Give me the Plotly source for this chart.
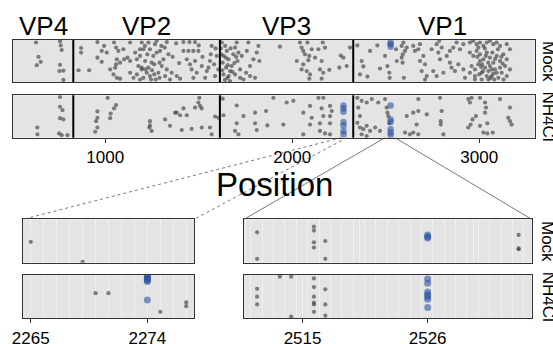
import plotly.graph_objects as go

# ---------------- data ----------------
# top overview panels: (position, relative height 0-1)
mock_points = [
    (630,.94),(758,.97),(762,.87),(767,.76),(643,.60),(634,.40),(655,.48),(758,.41),(755,.26),(776,.27),(776,.05),
    (857,.28),(914,.28),(871,.81),(871,.70),(958,.95),(994,.86),(981,.74),(1008,.70),(958,.58),(981,.48),(1047,.94),
    (1058,.82),(1070,.74),(1097,.78),(1133,.94),(1062,.54),(1058,.42),(1079,.46),(1101,.54),(1119,.58),(1133,.50),
    (1169,.54),(1160,.70),(1186,.78),(1026,.30),(1044,.18),(1062,.10),(1079,.08),(1053,.34),(1133,.22),(1151,.10),
    (1169,.18),(1186,.06),(1195,.30),(1177,.38),
    (1195,.94),(1204,.78),(1186,.62),(1213,.50),(1195,.34),(1222,.22),(1204,.10),(1239,.14),(1231,.34),(1248,.46),
    (1257,.62),(1239,.78),(1266,.90),(1275,.98),(1231,.94),(1293,.74),(1311,.54),(1302,.38),(1329,.30),(1320,.14),
    (1346,.06),(1284,.22),(1329,.95),(1379,.92),(1418,.95),(1450,.95),(1480,.95),(1500,.87),(1418,.74),(1445,.74),
    (1471,.74),(1498,.74),(1436,.54),(1453,.42),(1462,.30),(1471,.10),(1489,.22),(1516,.38),(1552,.34),(1560,.50),
    (1564,.66),(1569,.86),(1355,.22),(1382,.14),(1400,.08),(1480,.50),(1534,.10),(1543,.26),(1582,.42),(1587,.14),
    (1596,.62),(1212,.86),(1250,.28),(1270,.06),(1300,.86),(1360,.60),(1395,.45),(1520,.60),(1590,.80),(1605,.30),
    (1225,.66),(1245,.06),(1262,.42),(1275,.70),(1290,.46),(1318,.82),(1338,.66),(1262,.18),(1215,.30),(1290,.10),
    (1623,.94),(1641,.86),(1650,.74),(1632,.62),(1659,.54),(1628,.46),(1646,.34),(1667,.26),(1632,.18),(1653,.10),
    (1676,.38),(1685,.66),(1694,.82),(1703,.94),(1707,.50),(1694,.18),(1721,.30),(1730,.62),(1739,.06),(1757,.74),
    (1765,.94),(1774,.38),(1792,.54),(1810,.70),(1819,.86),(1824,.50),(1801,.10),(1774,.14),(1667,.02),(1721,.10),
    (1753,.22),(1618,.80),(1640,.05),(1670,.80),(1690,.45),(1712,.70),(1660,.14),(1625,.28),(1645,.58),(1680,.24),
    (1700,.60),(1620,.66),(1655,.40),
    (1934,.84),(2041,.94),(2050,.82),(2059,.74),(2068,.66),(2081,.94),(2091,.62),(2104,.78),(2140,.78),(2163,.94),
    (2175,.82),(2122,.58),(2024,.50),(2059,.42),(2086,.52),(2157,.50),(2050,.30),(2077,.26),(2095,.18),(2091,.08),
    (2148,.30),(2166,.22),(2157,.08),(2198,.29),(2252,.34),(2259,.63),(2273,.58),(2291,.38),(2309,.82),
    (2348,.87),(2371,.50),(2380,.37),(2362,.18),(2402,.13),(2416,.74),(2455,.87),(2469,.32),(2496,.62),(2509,.38),
    (2519,.22),(2521,.10),(2555,.78),(2559,.50),(2591,.66),(2585,.86),
    (2594,.94),(2603,.74),(2612,.82),(2585,.58),(2590,.46),(2597,.10),(2647,.86),(2656,.74),(2674,.78),(2683,.90),
    (2701,.62),(2683,.50),(2710,.42),(2692,.26),(2719,.14),(2710,.06),(2745,.78),(2772,.90),(2786,.98),(2799,.82),
    (2781,.70),(2790,.54),(2826,.62),(2843,.74),(2861,.82),(2879,.94),(2897,.78),(2915,.90),(2843,.46),(2852,.34),
    (2870,.26),(2888,.42),(2915,.30),(2924,.10),(2808,.22),(2754,.26),(2772,.14),
    (2950,.94),(2968,.98),(2986,.90),(3004,.94),(3022,.86),(3040,.94),(3057,.98),(3075,.90),(3093,.94),(3111,.86),
    (3147,.90),(3164,.78),(2950,.70),(2968,.62),(2986,.74),(3004,.66),(3022,.54),(3040,.70),(3057,.58),(3075,.46),
    (3093,.62),(3111,.50),(3129,.66),(3147,.54),(2959,.38),(2977,.30),(2995,.42),(3013,.22),(3031,.34),(3049,.26),
    (3066,.14),(3084,.30),(3102,.10),(3120,.22),(3138,.38),(3147,.14),(2977,.06),(3013,.06),(3049,.06),(3093,.22),
    (3111,.34),(3164,.30),(3004,.50),(3057,.38),(3040,.14),(2950,.22),(2977,.14),(3030,.80),(3070,.70),(3100,.78),
    (3015,.42),(3085,.55),(3125,.44),(2990,.60),(3060,.10),(3000,.18),(3035,.62),(3048,.46),(3066,.30),(3080,.06),
    (3020,.26),(2995,.82),(3010,.36),(3075,.20),(3118,.60),(3130,.06),
]
mock_blue = [(2526,.94),(2526,.90),(2526,.84)]

nh4_points = [
    (758,.96),(758,.73),(771,.65),(758,.46),(776,.43),(637,.24),(637,.08),(753,.10),(767,.06),(798,.06),
    (1013,.94),(1058,.77),(1047,.69),(1029,.57),(1026,.46),(958,.62),(958,.47),(951,.39),(958,.24),(946,.14),
    (1503,.94),(1498,.83),(1507,.75),(1516,.69),(1480,.71),(1418,.69),(1382,.59),(1400,.53),(1436,.53),(1373,.59),
    (1320,.43),(1346,.28),(1409,.18),(1462,.21),(1516,.24),(1560,.24),(1569,.08),(1239,.39),(1239,.29),(1248,.16),
    (1236,.24),(1587,.50),(1605,.47),
    (1628,.92),(1703,.76),(1632,.53),(1739,.51),(1801,.59),(1860,.63),(1703,.34),(1694,.16),(1712,.08),(1801,.34),
    (1867,.29),(1810,.18),
    (1899,.94),(1970,.83),(2006,.87),(2140,.94),(2166,.94),(2095,.75),(2157,.69),(2202,.75),(2059,.59),(2104,.47),
    (2166,.51),(2202,.51),(2211,.63),(1952,.31),(2095,.31),(2148,.34),(2202,.34),(2059,.08),(2148,.16),(2175,.10),
    (2202,.08),
    (2348,.94),(2371,.87),(2398,.83),(2425,.91),(2460,.83),(2496,.91),(2353,.71),(2362,.51),(2348,.35),(2362,.24),
    (2380,.20),(2398,.28),(2416,.16),(2443,.24),(2469,.16),(2371,.08),(2398,.04),(2505,.71),(2509,.59),(2514,.51),
    (2519,.34),
    (2612,.51),(2647,.59),(2674,.91),(2674,.63),(2719,.55),(2665,.31),(2603,.12),(2629,.08),(2647,.12),(2674,.08),
    (2790,.94),(2799,.63),(2794,.39),(2794,.31),(2808,.08),(2941,.91),(2950,.83),(2959,.94),(3004,.94),(3031,.83),
    (3036,.71),(3031,.59),(2982,.51),(2964,.43),(2954,.31),(2941,.24),(3004,.28),(3043,.34),(3022,.12),(3043,.10),
    (3072,.12),(3111,.91),(3164,.71),(3155,.47),(3164,.39),(3173,.31),
]
nh4_blue = [(2274,.76),(2274,.69),(2274,.61),(2274,.37),(2274,.29),(2274,.16),(2274,.08),
            (2526,.76),(2526,.43),(2526,.37),(2526,.20),(2526,.12),(2526,.06)]

# zoom 1 (2265-2277)
z1_mock_points = [(2265,.48),(2269,.02)]
z1_nh4_points = [(2270,.58),(2271,.58),(2275,.15),(2277,.37),(2277,.28)]
z1_nh4_blue = [(2274,.97),(2274,.95),(2274,.93),(2274,.90),(2274,.88),(2274,.85),(2274,.42)]

# zoom 2 (2511-2534)
z2_mock_points = [(2511,.70),(2511,.09),(2516,.83),(2516,.74),(2516,.47),(2516,.35),(2517,.50),(2517,.09),
                  (2534,.64),(2534,.33),(2534,.31)]
z2_mock_blue = [(2526,.64),(2526,.60),(2526,.57)]
z2_nh4_points = [(2511,.68),(2511,.50),(2511,.32),(2513,.96),(2514,.96),(2514,.04),(2516,.92),(2516,.72),
                 (2516,.50),(2516,.36),(2516,.32),(2516,.15),(2517,.67),(2517,.32),(2517,.06)]
z2_nh4_blue = [(2526,.91),(2526,.81),(2526,.61),(2526,.55),(2526,.50),(2526,.44),(2526,.25)]

vp_names = ["VP4", "VP2", "VP3", "VP1"]
vp_centers = [672, 1221, 1968, 2805]
vp_boundaries = [829, 1613, 2326]
conditions = ["Mock", "NH4Cl"]

top_range = [505, 3298]
z1_range = [2264.4, 2277.6]
z2_range = [2509.85, 2535.15]
top_ticks = [1000, 2000, 3000]
z1_ticks = [2265, 2274]
z2_ticks = [2515, 2526]
connector_spans = [(2262, 2292), (2496, 2549)]

# ---------------- layout geometry ----------------
W, H = 553, 344
def px(x): return x / W
def py(y): return 1 - y / H

dom_top_x = [px(12.7), px(535)]
dom_z1_x = [px(23), px(194)]
dom_z2_x = [px(244), px(531.7)]
dom_top_mock = [py(82), py(40)]
dom_top_nh4 = [py(137.7), py(95.3)]
dom_bot_mock = [py(262.7), py(219.3)]
dom_bot_nh4 = [py(318.3), py(275)]

GREY = "rgba(65,65,65,0.65)"
BLUE = "rgba(45,85,165,0.6)"
FONT = "Liberation Sans, Arial, sans-serif"

fig = go.Figure()

def add_pts(pts, ax, color, size):
    if not pts:
        return
    fig.add_trace(go.Scatter(
        x=[p[0] for p in pts], y=[p[1] for p in pts], mode="markers",
        marker=dict(color=color, size=size, line=dict(width=0)),
        xaxis="x" + ("" if ax == 1 else str(ax)), yaxis="y" + ("" if ax == 1 else str(ax)),
        showlegend=False, hoverinfo="x"))

add_pts(mock_points, 1, GREY, 4.2)
add_pts(mock_blue, 1, BLUE, 6.5)
add_pts(nh4_points, 2, GREY, 4.2)
add_pts(nh4_blue, 2, BLUE, 6.5)
add_pts(z1_mock_points, 3, GREY, 4.2)
add_pts(z1_nh4_points, 4, GREY, 4.2)
add_pts(z1_nh4_blue, 4, BLUE, 7)
add_pts(z2_mock_points, 5, GREY, 4.2)
add_pts(z2_mock_blue, 5, BLUE, 7)
add_pts(z2_nh4_points, 6, GREY, 4.2)
add_pts(z2_nh4_blue, 6, BLUE, 7)

border = dict(showline=True, linecolor="#333333", linewidth=1, mirror=True, zeroline=False, automargin=False)
tickfont = dict(family=FONT, size=17, color="black")

def xax(domain, rng, anchor, tickvals=None, minor=False):
    d = dict(domain=domain, range=rng, anchor=anchor, showgrid=False, fixedrange=True, **border)
    if tickvals:
        d.update(tickmode="array", tickvals=tickvals, ticks="outside", ticklen=4, tickcolor="#333333",
                 tickwidth=1.2, tickfont=tickfont, showticklabels=True)
    else:
        d.update(showticklabels=False, ticks="")
    if minor:
        d.update(showgrid=True, gridcolor="#f0f0f0", gridwidth=1,
                 minor=dict(dtick=1, tick0=rng[0] + 0.6, showgrid=True, gridcolor="#f0f0f0", gridwidth=1, ticks=""))
    return d

def yax(domain, anchor):
    return dict(domain=domain, range=[0, 1], anchor=anchor, showgrid=False, showticklabels=False,
                ticks="", fixedrange=True, **border)

fig.update_layout(
    width=W, height=H, margin=dict(l=0, r=0, t=0, b=0, autoexpand=False),
    paper_bgcolor="white", plot_bgcolor="#e4e4e4", showlegend=False,
    xaxis=xax(dom_top_x, top_range, "y"),
    yaxis=yax(dom_top_mock, "x"),
    xaxis2=xax(dom_top_x, top_range, "y2", top_ticks),
    yaxis2=yax(dom_top_nh4, "x2"),
    xaxis3=xax(dom_z1_x, z1_range, "y3", minor=True),
    yaxis3=yax(dom_bot_mock, "x3"),
    xaxis4=xax(dom_z1_x, z1_range, "y4", z1_ticks, minor=True),
    yaxis4=yax(dom_bot_nh4, "x4"),
    xaxis5=xax(dom_z2_x, z2_range, "y5", minor=True),
    yaxis5=yax(dom_bot_mock, "x5"),
    xaxis6=xax(dom_z2_x, z2_range, "y6", z2_ticks, minor=True),
    yaxis6=yax(dom_bot_nh4, "x6"),
    font=dict(family=FONT, color="black"),
)

shapes = []
for xr, yr in (("x", "y domain"), ("x2", "y2 domain")):
    for b in vp_boundaries:
        shapes.append(dict(type="line", xref=xr, yref=yr, x0=b, x1=b, y0=0, y1=1,
                           line=dict(color="black", width=2), layer="above"))

def top_paper(xd):
    return dom_top_x[0] + (xd - top_range[0]) / (top_range[1] - top_range[0]) * (dom_top_x[1] - dom_top_x[0])

for (a, b), dom, dash in ((connector_spans[0], dom_z1_x, "dot"), (connector_spans[1], dom_z2_x, "solid")):
    for xd, xb in ((a, dom[0]), (b, dom[1])):
        shapes.append(dict(type="line", xref="paper", yref="paper", x0=top_paper(xd), y0=dom_top_nh4[0],
                           x1=xb, y1=dom_bot_mock[1], line=dict(color="#555555", width=0.8, dash=dash)))
fig.update_layout(shapes=shapes)

ann = []
for name, c in zip(vp_names, vp_centers):
    ann.append(dict(text=name, x=c, xref="x", y=py(26), yref="paper", showarrow=False,
                    xanchor="center", yanchor="middle", font=dict(family=FONT, size=26, color="black")))
ann.append(dict(text="Position", x=px(274), y=py(185), xref="paper", yref="paper", showarrow=False,
                xanchor="center", yanchor="middle", font=dict(family=FONT, size=33, color="black")))
for cond, doms in zip(conditions, ((dom_top_mock, dom_bot_mock), (dom_top_nh4, dom_bot_nh4))):
    for d in doms:
        ann.append(dict(text=cond, x=px(548), y=(d[0] + d[1]) / 2, xref="paper", yref="paper",
                        showarrow=False, textangle=90, xanchor="center", yanchor="middle",
                        font=dict(family=FONT, size=17, color="black")))
fig.update_layout(annotations=ann)

fig.write_html("out.html", config={"displayModeBar": False},
               post_script="document.body.style.margin='0';document.body.style.overflow='hidden';")
